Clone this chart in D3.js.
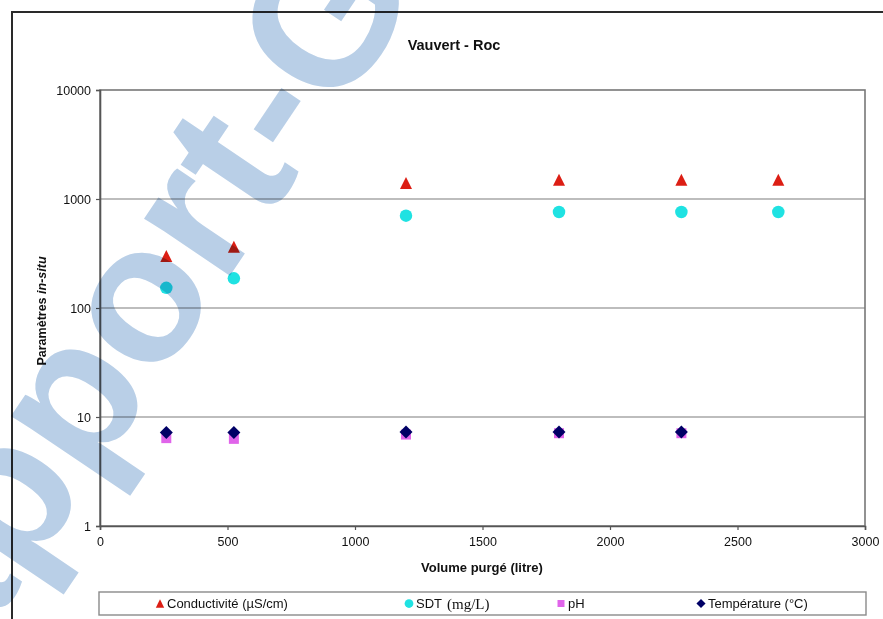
<!DOCTYPE html>
<html>
<head>
<meta charset="utf-8">
<script src="https://cdn.jsdelivr.net/npm/d3@7/dist/d3.min.js"></script>
<style>
  html, body { margin: 0; padding: 0; background: #fff; }
  svg { display: block; }
  text { font-family: "Liberation Sans", Arial, sans-serif; fill: #111; }
</style>
</head>
<body>
<svg id="chart" width="883" height="619"></svg>
<script>
// Field measurements during purging (Vauvert - Roc)
const volume = [260, 525, 1200, 1800, 2280, 2660];          // litres purged
const conductivite = [300, 365, 1400, 1500, 1500, 1500];    // µS/cm
const sdt = [153, 187, 703, 760, 760, 760];                 // mg/L
const volumeShort = [260, 525, 1200, 1800, 2280];
const ph = [6.4, 6.3, 6.9, 7.1, 7.1];
const temperature = [7.2, 7.2, 7.3, 7.3, 7.3];              // °C

const xTicks = [0, 500, 1000, 1500, 2000, 2500, 3000];
const yTicks = [1, 10, 100, 1000, 10000];
const gridValues = [10, 100, 1000];

const svg = d3.select("#chart");

const plotLeft = 100, plotRight = 865, plotTop = 90, plotBottom = 526;
const x = d3.scaleLinear().domain([0, 3000]).range([plotLeft, plotRight]);
const y = d3.scaleLog().domain([1, 10000]).range([plotBottom, plotTop]);

// outer chart frame (runs past the page edge)
svg.append("rect")
  .attr("x", 12).attr("y", 12).attr("width", 940).attr("height", 700)
  .attr("fill", "none").attr("stroke", "#2a2a2a").attr("stroke-width", 2);

// title
svg.append("text")
  .attr("x", 454).attr("y", 50)
  .attr("text-anchor", "middle")
  .style("font-size", "14.5px").style("font-weight", "bold")
  .text("Vauvert - Roc");

// gridlines
svg.append("g").selectAll("line").data(gridValues).join("line")
  .attr("x1", plotLeft).attr("x2", plotRight)
  .attr("y1", d => y(d)).attr("y2", d => y(d))
  .attr("stroke", "#7d7d7d").attr("stroke-width", 1.2);

// plot area border
svg.append("rect")
  .attr("x", plotLeft).attr("y", plotTop)
  .attr("width", plotRight - plotLeft).attr("height", plotBottom - plotTop)
  .attr("fill", "none").attr("stroke", "#777").attr("stroke-width", 1.6);

// axes
const yAxis = svg.append("g")
  .attr("transform", `translate(${plotLeft},0)`)
  .call(d3.axisLeft(y).tickValues(yTicks).tickFormat(d3.format("d")).tickSize(4).tickPadding(5));
const xAxis = svg.append("g")
  .attr("transform", `translate(0,${plotBottom})`)
  .call(d3.axisBottom(x).tickValues(xTicks).tickFormat(d3.format("d")).tickSize(4).tickPadding(7));
[yAxis, xAxis].forEach(g => {
  g.select(".domain").attr("stroke", "#555").attr("stroke-width", 1.6);
  g.selectAll(".tick line").attr("stroke", "#555").attr("stroke-width", 1.2);
  g.selectAll(".tick text")
    .style("font-family", '"Liberation Sans", Arial, sans-serif')
    .style("font-size", "12.5px").style("fill", "#111");
});

// axis titles
const yTitle = svg.append("text")
  .attr("transform", "translate(46,311) rotate(-90)")
  .attr("text-anchor", "middle")
  .style("font-size", "12.5px").style("font-weight", "bold");
yTitle.append("tspan").text("Paramètres ");
yTitle.append("tspan").style("font-style", "italic").text("in-situ");

svg.append("text")
  .attr("x", 482).attr("y", 572)
  .attr("text-anchor", "middle")
  .style("font-size", "13px").style("font-weight", "bold")
  .text("Volume purgé (litre)");

// marker shapes, centred on their bounding box
const shapes = {
  triangle: s => `M0,${-s / 2}L${s / 2},${s / 2}L${-s / 2},${s / 2}Z`,
  square: s => `M${-s / 2},${-s / 2}h${s}v${s}h${-s}Z`,
  diamond: s => `M0,${-s / 2}L${s / 2},0L0,${s / 2}L${-s / 2},0Z`,
  circle: s => `M${s / 2},0A${s / 2},${s / 2} 0 1,1 ${-s / 2},0A${s / 2},${s / 2} 0 1,1 ${s / 2},0Z`
};

const series = [
  { name: "Conductivité (µS/cm)", xs: volume, ys: conductivite, shape: "triangle", size: 12, color: "#dc1e14", lx: 160 },
  { name: "SDT", xs: volume, ys: sdt, shape: "circle", size: 12.5, color: "#1fe2e2", lx: 409 },
  { name: "pH", xs: volumeShort, ys: ph, shape: "square", size: 10, color: "#e064ea", lx: 561 },
  { name: "Température (°C)", xs: volumeShort, ys: temperature, shape: "diamond", size: 13, color: "#000066", lx: 701 }
];

series.forEach(s => {
  svg.append("g").selectAll("path")
    .data(s.xs.map((v, i) => [v, s.ys[i]]))
    .join("path")
    .attr("d", shapes[s.shape](s.size))
    .attr("transform", d => `translate(${x(d[0])},${y(d[1])})`)
    .attr("fill", s.color);
});

// legend
svg.append("rect")
  .attr("x", 99).attr("y", 592).attr("width", 767).attr("height", 23)
  .attr("fill", "#fff").attr("stroke", "#8a8a8a").attr("stroke-width", 1.4);

series.forEach(s => {
  const g = svg.append("g").attr("transform", `translate(${s.lx},603.5)`);
  g.append("path").attr("d", shapes[s.shape](s.size * 0.7)).attr("fill", s.color);
  g.append("text").attr("x", 7).attr("y", 4.5).style("font-size", "13px").text(s.name);
  if (s.shape === "circle") {
    g.append("text").attr("x", 38).attr("y", 5)
      .style("font-family", '"Liberation Serif", "Times New Roman", serif')
      .style("font-size", "15px").text("(mg/L)");
  }
});

// site watermark laid over the chart
svg.append("text")
  .attr("transform", "translate(-117,790) rotate(-56)")
  .style("font-size", "195px").style("font-weight", "bold")
  .style("mix-blend-mode", "multiply")
  .style("fill", "#b9cfe7")
  .text("Rapport-Gratuit");
</script>
</body>
</html>
